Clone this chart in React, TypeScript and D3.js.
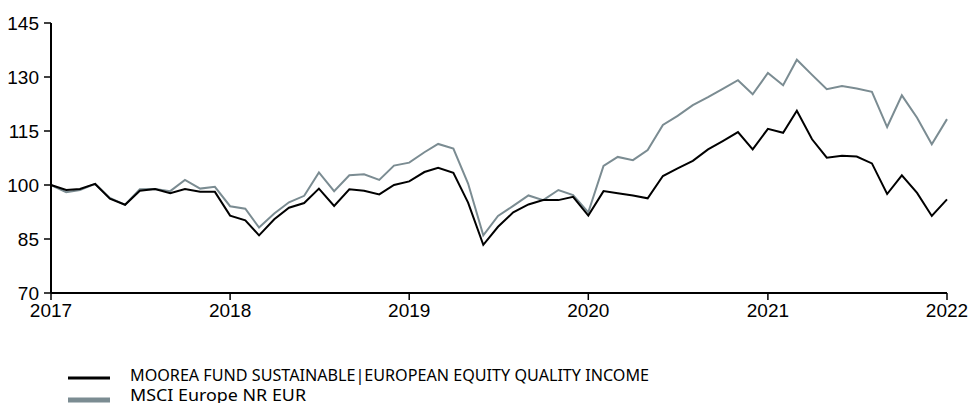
import React from "react";
import * as d3 from "d3";

const fundName = "MOOREA FUND SUSTAINABLE|EUROPEAN EQUITY QUALITY INCOME";
const indexName = "MSCI Europe NR EUR";

const fundValues = [
  100, 98.6, 98.9, 100.3, 96.2, 94.5, 98.4, 98.9, 97.7, 98.9, 98.1, 98.1,
  91.5, 90.2, 86.0, 90.5, 93.7, 95.0, 99.0, 94.2, 98.8, 98.4, 97.4, 100.0,
  101.0, 103.6, 104.8, 103.4, 95.1, 83.4, 88.4, 92.4, 94.6, 95.8, 95.8, 96.7,
  91.5, 98.3, 97.7, 97.1, 96.3, 102.5, 104.6, 106.7, 109.9, 112.2, 114.7, 109.9,
  115.6, 114.5, 120.6, 112.7, 107.6, 108.1, 107.9, 106.0, 97.5, 102.7, 97.8, 91.4,
  96.0,
];

const indexValues = [
  100, 98.0, 98.6, 100.3, 96.4, 94.5, 98.8, 98.9, 98.3, 101.4, 99.0, 99.5,
  94.1, 93.4, 88.2, 92.1, 95.2, 97.0, 103.5, 98.3, 102.7, 103.0, 101.4, 105.4,
  106.2, 109.1, 111.4, 110.1, 100.4, 86.0, 91.4, 94.2, 97.1, 95.8, 98.6, 97.2,
  92.4, 105.3, 107.8, 106.9, 109.7, 116.7, 119.2, 122.2, 124.4, 126.7, 129.1, 125.2,
  131.1, 127.7, 134.8, 130.6, 126.6, 127.5, 126.8, 125.9, 116.1, 124.9, 118.7, 111.3,
  118.3,
];

const yTicks = [70, 85, 100, 115, 130, 145];
const xTickYears = [2017, 2018, 2019, 2020, 2021, 2022];

const W = 968;
const H = 403;
const left = 51;
const right = 947;
const top = 23;
const bottom = 293;

export default function App() {
  const dates = fundValues.map((_, i) => new Date(2017, i, 1));
  const x = d3
    .scaleTime()
    .domain([new Date(2017, 0, 1), new Date(2022, 0, 1)])
    .range([left, right]);
  const y = d3.scaleLinear().domain([70, 145]).range([bottom, top]);

  const line = d3
    .line<number>()
    .x((_, i) => x(dates[i]))
    .y((d) => y(d));

  const axisFont = "'Liberation Sans', Arial, sans-serif";
  const legendFont = "'Noto Sans', sans-serif";

  return (
    <svg
      width={W}
      height={H}
      style={{ position: "absolute", left: 0, top: 0, display: "block" }}
    >
      <rect x={0} y={0} width={W} height={H} fill="#fff" />
      {/* series */}
      <path d={line(indexValues) || ""} fill="none" stroke="#7b8c92" strokeWidth={2} />
      <path d={line(fundValues) || ""} fill="none" stroke="#000" strokeWidth={2} />

      {/* y axis */}
      <line x1={left} x2={left} y1={top} y2={bottom} stroke="#000" strokeWidth={2} />
      {yTicks.map((t) => (
        <g key={t} transform={`translate(0,${y(t)})`}>
          <line x1={left - 7} x2={left} stroke="#000" strokeWidth={1.5} />
          <text
            x={left - 12}
            dy="0.36em"
            textAnchor="end"
            fontFamily={axisFont}
            fontSize={19}
            fill="#000"
          >
            {t}
          </text>
        </g>
      ))}

      {/* x axis */}
      <line x1={left} x2={right} y1={bottom} y2={bottom} stroke="#000" strokeWidth={2} />
      {xTickYears.map((yr) => {
        const xx = x(new Date(yr, 0, 1));
        return (
          <g key={yr} transform={`translate(${xx},${bottom})`}>
            <line y1={0} y2={7} stroke="#000" strokeWidth={1.5} />
            <text
              y={24}
              textAnchor="middle"
              fontFamily={axisFont}
              fontSize={19}
              fill="#000"
            >
              {yr}
            </text>
          </g>
        );
      })}

      {/* legend */}
      <line x1={68} x2={110} y1={378} y2={378} stroke="#000" strokeWidth={3} />
      <text
        x={130}
        y={381}
        fontFamily={legendFont}
        fontSize={17}
        textLength={519}
        lengthAdjust="spacingAndGlyphs"
        fill="#000"
      >
        {fundName}
      </text>
      <line x1={68} x2={110} y1={400} y2={400} stroke="#7b8c92" strokeWidth={5} />
      <text
        x={130}
        y={401}
        fontFamily={legendFont}
        fontSize={17}
        textLength={176}
        lengthAdjust="spacingAndGlyphs"
        fill="#000"
      >
        {indexName}
      </text>
    </svg>
  );
}
